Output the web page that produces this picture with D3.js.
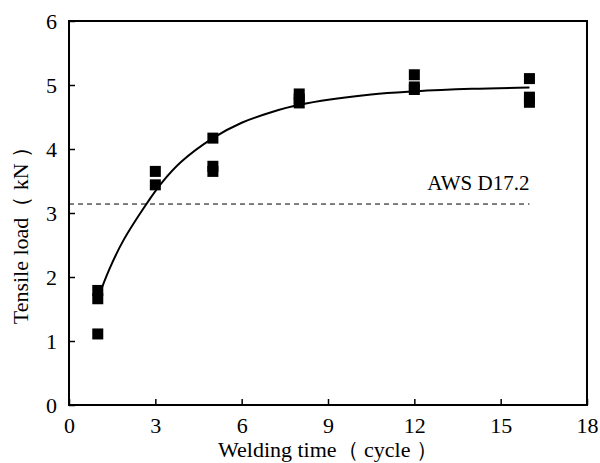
<!DOCTYPE html>
<html>
<head>
<meta charset="utf-8">
<script src="https://cdn.jsdelivr.net/npm/d3@7"></script>
<style>
  body { margin: 0; background: #fff; }
  text { font-family: "Liberation Serif", "Times New Roman", serif; fill: #000; }
</style>
</head>
<body>
<div id="chart"></div>
<script>
// measured points (welding time in cycles, tensile load in kN)
const pointTime = [1, 1, 1, 3, 3, 5, 5, 5, 8, 8, 8, 12, 12, 12, 16, 16, 16];
const pointLoad = [1.79, 1.66, 1.11, 3.65, 3.44, 4.17, 3.73, 3.65, 4.86, 4.78, 4.72, 5.16, 4.97, 4.93, 5.10, 4.81, 4.73];

// fitted curve
const fitTime = [1, 1.4, 1.9, 2.75, 3.2, 3.9, 5, 6, 7, 8, 10.5, 12, 14, 16];
const fitLoad = [1.66, 2.12, 2.58, 3.18, 3.46, 3.80, 4.17, 4.41, 4.57, 4.69, 4.85, 4.90, 4.94, 4.96];

const standardLoad = 3.14;
const standardLabel = "AWS D17.2";
const standardEnd = 16;

const xTicks = [0, 3, 6, 9, 12, 15, 18];
const yTicks = [0, 1, 2, 3, 4, 5, 6];

let margin = {top: 21, right: 13, bottom: 58, left: 69},
    width = 600 - margin.left - margin.right,
    height = 463 - margin.top - margin.bottom;

const serif = '"Liberation Serif", "Times New Roman", serif';

const svg = d3.select("#chart")
  .append("svg")
    .attr("width", 600)
    .attr("height", 463)
  .append("g")
    .attr("transform", "translate(" + margin.left + "," + margin.top + ")");

let x = d3.scaleLinear().domain([0, 18]).range([0, width]);
let y = d3.scaleLinear().domain([0, 6]).range([height, 0]);

// frame
svg.append("rect")
  .attr("width", width)
  .attr("height", height)
  .attr("fill", "none")
  .attr("stroke", "black")
  .attr("stroke-width", 2);

// X axis, ticks inward
const xAxis = svg.append("g")
  .attr("transform", "translate(0," + height + ")")
  .call(d3.axisBottom(x).tickValues(xTicks).tickFormat(d3.format("d")).tickSize(-6).tickPadding(12));
xAxis.attr("font-family", serif).attr("font-size", 22);
xAxis.select(".domain").remove();
xAxis.selectAll("line").attr("stroke-width", 1.5);
xAxis.selectAll("text").style("font-family", serif).style("font-size", "22px");

// Y axis
const yAxis = svg.append("g")
  .call(d3.axisLeft(y).tickValues(yTicks).tickFormat(d3.format("d")).tickSize(-6).tickPadding(12));
yAxis.attr("font-family", serif).attr("font-size", 22);
yAxis.select(".domain").remove();
yAxis.selectAll("line").attr("stroke-width", 1.5);
yAxis.selectAll("text").style("font-family", serif).style("font-size", "22px");

// standard line
svg.append("line")
  .attr("x1", x(0))
  .attr("x2", x(standardEnd))
  .attr("y1", y(standardLoad))
  .attr("y2", y(standardLoad))
  .attr("stroke", "black")
  .attr("stroke-width", 1)
  .attr("stroke-dasharray", "5,4");

svg.append("text")
  .attr("x", x(standardEnd))
  .attr("y", y(standardLoad) - 14)
  .attr("text-anchor", "end")
  .style("font-size", "21px")
  .text(standardLabel);

// fitted curve
const fit = fitTime.map((t, i) => [t, fitLoad[i]]);
svg.append("path")
  .datum(fit)
  .attr("fill", "none")
  .attr("stroke", "black")
  .attr("stroke-width", 2)
  .attr("d", d3.line()
    .x(d => x(d[0]))
    .y(d => y(d[1]))
    .curve(d3.curveCatmullRom));

// square markers
const sq = 11;
svg.selectAll("mysquare")
  .data(pointTime.map((t, i) => [t, pointLoad[i]]))
  .enter()
  .append("rect")
    .attr("x", d => x(d[0]) - sq / 2)
    .attr("y", d => y(d[1]) - sq / 2)
    .attr("width", sq)
    .attr("height", sq)
    .attr("fill", "black");

// axis titles
svg.append("text")
  .attr("x", width / 2)
  .attr("y", height + 52)
  .attr("text-anchor", "middle")
  .style("font-size", "22px")
  .text("Welding time（ cycle ）");

svg.append("text")
  .attr("transform", "translate(" + (-41) + "," + (height / 2 + 17) + ")rotate(-90)")
  .attr("text-anchor", "middle")
  .style("font-size", "22px")
  .text("Tensile load（ kN ）");
</script>
</body>
</html>
